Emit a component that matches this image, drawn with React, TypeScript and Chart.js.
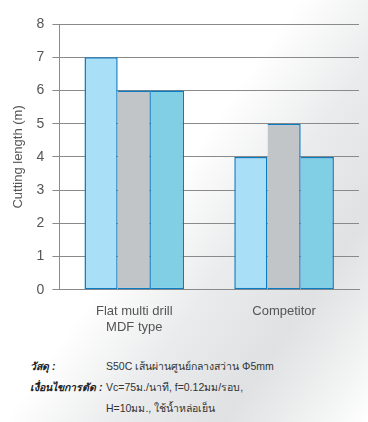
import React, { useEffect, useRef } from "react";
import { Chart, registerables } from "chart.js";

Chart.register(...registerables);

const categories: (string | string[])[] = [["Flat multi drill", "MDF type"], "Competitor"];
const seriesA = [7, 4];
const seriesB = [6, 5];
const seriesC = [6, 4];
const yTicks = [0, 1, 2, 3, 4, 5, 6, 7, 8];
const yTitle = "Cutting length (m)";

const FONT = "'Liberation Sans', Arial, Helvetica, sans-serif";

export default function App() {
  const ref = useRef<HTMLCanvasElement | null>(null);
  useEffect(() => {
    if (!ref.current) return;
    const border = "#0b7cc2";
    const chart = new Chart(ref.current, {
      type: "bar",
      data: {
        labels: categories,
        datasets: [
          {
            data: seriesA,
            backgroundColor: "#a9dff7",
            borderColor: border,
            borderWidth: { top: 1.5, left: 1.5, right: 1.5, bottom: 1.5 },
            borderSkipped: false,
          },
          {
            data: seriesB,
            backgroundColor: "#c2c5c7",
            borderColor: border,
            borderWidth: { top: 1.5, left: 0, right: 1.5, bottom: 1.5 },
            borderSkipped: false,
          },
          {
            data: seriesC,
            backgroundColor: "#80cfe5",
            borderColor: border,
            borderWidth: { top: 1.5, left: 0, right: 1.5, bottom: 1.5 },
            borderSkipped: false,
          },
        ],
      },
      options: {
        animation: false,
        responsive: false,
        maintainAspectRatio: false,
        layout: { padding: { top: 24, right: 9, left: 11, bottom: 0 } },
        plugins: { legend: { display: false }, tooltip: { enabled: false } },
        datasets: { bar: { barPercentage: 1, categoryPercentage: 0.665 } },
        scales: {
          x: {
            grid: { display: false, drawTicks: false },
            border: { display: true, color: "#8a8a8a", width: 1 },
            ticks: { color: "#555", font: { family: FONT, size: 13 }, padding: 14 },
          },
          y: {
            min: 0,
            max: 8,
            afterBuildTicks: (axis: any) => {
              axis.ticks = yTicks.map((v) => ({ value: v }));
            },
            grid: { color: "#8a8a8a", lineWidth: 1, tickLength: 7, drawTicks: true },
            border: { display: true, color: "#8a8a8a", width: 1 },
            ticks: { color: "#555", font: { family: FONT, size: 14 }, padding: 8 },
            title: {
              display: true,
              text: yTitle,
              color: "#555",
              font: { family: FONT, size: 13 },
              padding: { top: 0, bottom: 2 },
            },
          },
        },
      },
    });
    return () => chart.destroy();
  }, []);

  const textStyle: React.CSSProperties = { fontFamily: FONT, fontSize: 10.5, color: "#333", lineHeight: "21px" };
  const labelStyle: React.CSSProperties = {
    fontStyle: "italic",
    fontWeight: "bold",
    color: "#222",
    whiteSpace: "nowrap",
    fontSize: 10.5,
  };

  return (
    <div
      style={{
        position: "absolute",
        left: 0,
        top: 0,
        width: 368,
        height: 422,
        overflow: "hidden",
        background:
          "linear-gradient(125deg, #ffffff 0%, #ffffff 45%, #eaebec 62%, #dfe1e2 78%, #f2f3f3 92%, #ffffff 100%)",
      }}
    >
      <canvas ref={ref} width={368} height={349} style={{ display: "block" }} />
      <div style={{ position: "absolute", left: 30, top: 356, ...textStyle }}>
        <div style={{ display: "flex" }}>
          <div style={{ width: 76, ...labelStyle }}>วัสดุ :</div>
          <div style={{ whiteSpace: "nowrap" }}>S50C เส้นผ่านศูนย์กลางสว่าน Φ5mm</div>
        </div>
        <div style={{ display: "flex" }}>
          <div style={{ width: 76, ...labelStyle }}>เงื่อนไขการตัด :</div>
          <div style={{ whiteSpace: "nowrap" }}>
            Vc=75ม./นาที, f=0.12มม/รอบ,
            <br />
            H=10มม., ใช้น้ำหล่อเย็น
          </div>
        </div>
      </div>
    </div>
  );
}
